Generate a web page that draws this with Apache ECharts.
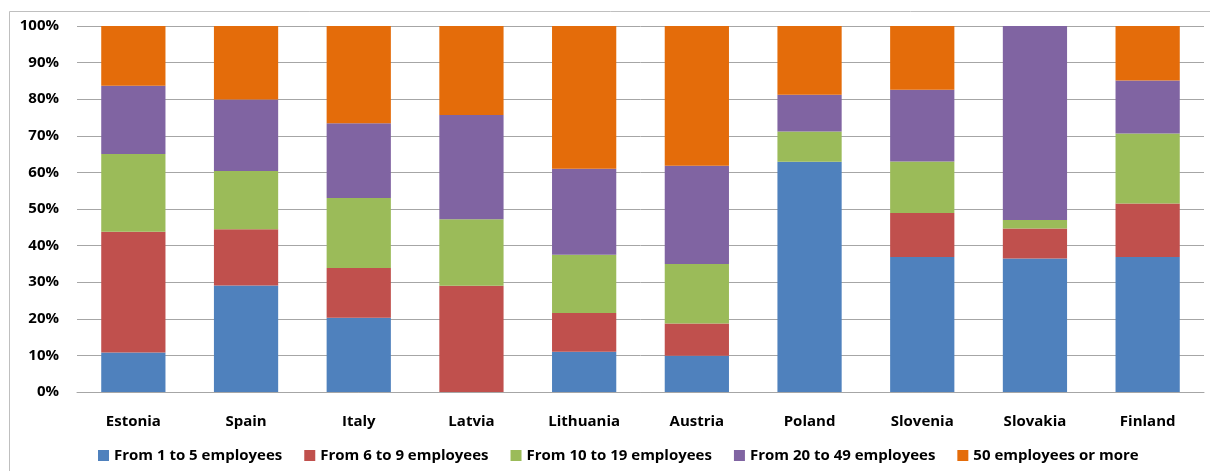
<!DOCTYPE html>
<html>
<head>
<meta charset="utf-8">
<style>
  html, body { margin: 0; padding: 0; background: #fff; }
  #chart { width: 1210px; height: 471px; }
</style>
<script src="https://cdn.jsdelivr.net/npm/echarts@6/dist/echarts.min.js"></script>
</head>
<body>
<div id="chart"></div>
<script>
// Share of firms by employee size class, per country (percent)
const countries = ['Estonia', 'Spain', 'Italy', 'Latvia', 'Lithuania', 'Austria', 'Poland', 'Slovenia', 'Slovakia', 'Finland'];
const seriesNames = ['From 1 to 5 employees', 'From 6 to 9 employees', 'From 10 to 19 employees', 'From 20 to 49 employees', '50 employees or more'];
const from1to5   = [10.8, 29.1, 20.3, 0.0, 11.0, 9.9, 62.9, 36.9, 36.5, 36.9];
const from6to9   = [33.0, 15.4, 13.6, 29.0, 10.6, 8.8, 0.0, 12.0, 8.2, 14.6];
const from10to19 = [21.2, 15.9, 19.1, 18.2, 15.9, 16.3, 8.3, 14.1, 2.3, 19.1];
const from20to49 = [18.7, 19.5, 20.4, 28.5, 23.5, 26.8, 10.0, 19.6, 53.0, 14.5];
const over50     = [16.3, 20.1, 26.6, 24.3, 39.0, 38.2, 18.8, 17.4, 0.0, 14.9];
const yTicks = [0, 10, 20, 30, 40, 50, 60, 70, 80, 90, 100];

const colors = ['#4F81BD', '#C0504D', '#9BBB59', '#8064A2', '#E46C0A'];
const values = [from1to5, from6to9, from10to19, from20to49, over50];
const font = '"Open Sans", Lato, sans-serif';

const chart = echarts.init(document.getElementById('chart'), null, { renderer: 'canvas' });
chart.setOption({
  animation: false,
  backgroundColor: '#fff',
  color: colors,
  textStyle: { fontFamily: font },
  graphic: [{
    type: 'rect',
    shape: { x: 9.5, y: 11.5, width: 1220, height: 480 },
    style: { fill: 'none', stroke: '#bfbfbf', lineWidth: 1 },
    silent: true
  }],
  grid: { left: 77, right: 6, top: 26, bottom: 79, containLabel: false },
  legend: {
    bottom: 3,
    left: 93,
    itemWidth: 11,
    itemHeight: 11,
    itemGap: 22,
    icon: 'rect',
    textStyle: { fontFamily: font, fontWeight: 'bold', fontSize: 15, color: '#000' },
    data: seriesNames
  },
  xAxis: {
    type: 'category',
    data: countries,
    axisTick: { show: false },
    axisLine: { show: true, lineStyle: { color: '#a6a6a6', width: 1 } },
    axisLabel: { margin: 22, fontFamily: font, fontWeight: 'bold', fontSize: 15, color: '#000' }
  },
  yAxis: {
    type: 'value',
    min: yTicks[0],
    max: yTicks[yTicks.length - 1],
    interval: 10,
    axisLine: { show: false },
    axisTick: { show: false },
    splitLine: { lineStyle: { color: '#a6a6a6', width: 1 } },
    axisLabel: { margin: 18, fontFamily: font, fontWeight: 'bold', fontSize: 15, color: '#000', formatter: '{value}%' }
  },
  series: seriesNames.map((name, i) => ({
    name: name,
    type: 'bar',
    stack: 'total',
    barCategoryGap: '43%',
    data: values[i],
    itemStyle: { color: colors[i] }
  }))
});
</script>
</body>
</html>
